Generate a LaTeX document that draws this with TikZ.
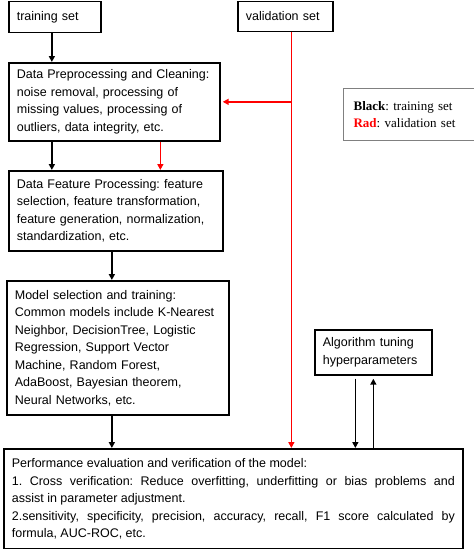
\documentclass[tikz,border=0pt]{standalone}
\usepackage{fontspec}
\setmainfont{Liberation Serif}
\setsansfont{Liberation Sans}
\usetikzlibrary{arrows.meta}
\frenchspacing

\begin{document}
\begin{tikzpicture}[x=1pt, y=-1pt,
  box/.style={draw, line width=1.7pt, anchor=north west, align=left, inner xsep=8pt,
    font=\sffamily\fontsize{12.5}{17.5}\selectfont},
  arr/.style={line width=1.7pt, -{Triangle[length=6pt,width=6pt]}},
  redarr/.style={arr, red}]
%
\useasboundingbox (0,0) rectangle (474,549);
% boxes
\node[box, minimum width=92, minimum height=31, text width=76] (train) at (8,0.5) {training set};
\node[box, minimum width=95, minimum height=30, text width=79] (valid) at (237,0.5) {validation set};
\node[box, minimum width=211, minimum height=78, text width=195] (prep) at (8,62)
  {Data Preprocessing and Cleaning:\\ noise removal, processing of\\ missing values, processing of\\ outliers, data integrity, etc.};
\node[box, draw=gray, line width=1.2pt, minimum width=130, minimum height=52, text width=114, inner xsep=10pt,
  font=\rmfamily\fontsize{13}{17.5}\selectfont] (legend) at (343,88)
  {\textbf{Black}: training set\\ \textcolor{red}{\textbf{Rad}}: validation set};
\node[box, minimum width=214, minimum height=80, text width=198] (feat) at (8,170)
  {Data Feature Processing: feature\\ selection, feature transformation,\\ feature generation, normalization,\\ standardization, etc.};
\node[box, minimum width=222, minimum height=134, text width=206] (model) at (6,280)
  {Model selection and training:\\ Common models include K-Nearest\\ Neighbor, DecisionTree, Logistic\\ Regression, Support Vector\\ Machine, Random Forest,\\ AdaBoost, Bayesian theorem,\\ Neural Networks, etc.};
\node[box, minimum width=117, minimum height=45, text width=101] (algo) at (314,329)
  {Algorithm tuning\\ hyperparameters};
\node[box, minimum width=459, minimum height=100, text width=443, align=justify] (perf) at (3,448)
  {Performance evaluation and verification of the model:\\
   1. Cross verification: Reduce overfitting, underfitting or bias problems and\linebreak
   assist in parameter adjustment.\\
   2.sensitivity, specificity, precision, accuracy, recall, F1 score calculated by\linebreak
   formula, AUC-ROC, etc.};

% training set (black)
\draw[arr] ([xshift=-3pt]train.south) -- ([xshift=-3pt]train.south |- prep.north);
\draw[arr] ([xshift=-3pt]train.south |- prep.south) -- ([xshift=-3pt]train.south |- feat.north);
\draw[arr] ([xshift=-4pt]feat.south) -- ([xshift=-4pt]feat.south |- model.north);
\draw[arr] ([xshift=-4pt]feat.south |- model.south) -- ([xshift=-4pt]feat.south |- perf.north);
% validation set (red)
\coordinate (vr) at ([xshift=6pt]valid.south);
\draw[redarr] (vr) -- (vr |- perf.north);
\draw[redarr] (vr |- prep.east) -- ([xshift=2pt]prep.east);
\draw[redarr] ([xshift=46pt]prep.south) -- ([xshift=46pt]prep.south |- feat.north);
% tuning
\draw[arr] ([xshift=-18pt,yshift=-3pt]algo.south) -- ([xshift=-18pt]algo.south |- perf.north);
\draw[arr] (algo.south |- perf.north) -- ([yshift=-3pt]algo.south);

\end{tikzpicture}
\end{document}
